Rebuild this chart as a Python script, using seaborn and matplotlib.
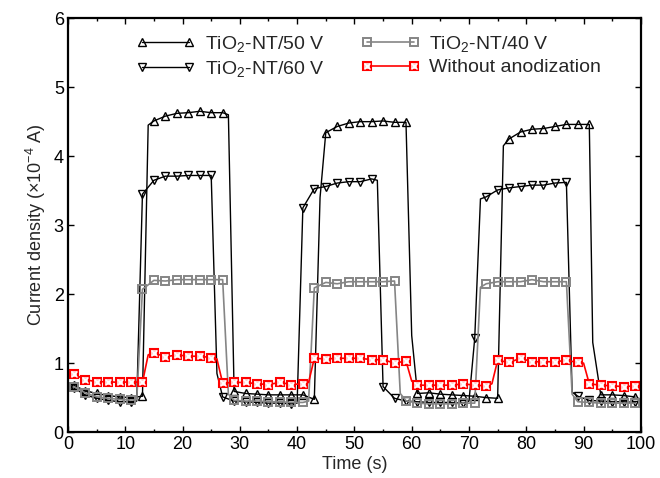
import numpy as np
import pandas as pd
import matplotlib
matplotlib.use("Agg")
import matplotlib.pyplot as plt
from matplotlib.ticker import MultipleLocator
from matplotlib.legend_handler import HandlerTuple
import seaborn as sns

# Sampling times of the marked readings (s)
t_marks = list(range(1, 100, 2))

# Photocurrent readings at the marked times (x1e-4 A)
y_50v = [0.68, 0.60, 0.56, 0.53, 0.51, 0.50, 0.52, 4.51, 4.58, 4.62,
         4.63, 4.65, 4.63, 4.63, 0.59, 0.56, 0.55, 0.54, 0.54, 0.54,
         0.54, 0.475, 4.34, 4.43, 4.48, 4.50, 4.50, 4.51, 4.49, 4.49,
         0.56, 0.57, 0.55, 0.54, 0.53, 0.52, 0.50, 0.49, 4.25, 4.35,
         4.39, 4.40, 4.43, 4.46, 4.46, 4.46, 0.54, 0.54, 0.53, 0.51]
y_60v = [0.64, 0.54, 0.49, 0.46, 0.44, 0.44, 3.45, 3.65, 3.71, 3.71,
         3.72, 3.72, 3.72, 0.51, 0.45, 0.44, 0.43, 0.42, 0.42, 0.41,
         3.25, 3.53, 3.56, 3.61, 3.63, 3.63, 3.67, 0.66, 0.49, 0.45,
         0.44, 0.43, 0.43, 0.43, 0.42, 1.36, 3.41, 3.51, 3.54, 3.56,
         3.58, 3.58, 3.61, 3.62, 0.52, 0.46, 0.45, 0.44, 0.44, 0.43]
y_40v = [0.66, 0.57, 0.51, 0.49, 0.475, 0.465, 2.07, 2.20, 2.19, 2.21,
         2.21, 2.21, 2.21, 2.21, 0.46, 0.45, 0.45, 0.44, 0.44, 0.43,
         0.43, 2.09, 2.17, 2.15, 2.18, 2.18, 2.18, 2.18, 2.19, 0.455,
         0.42, 0.41, 0.41, 0.41, 0.42, 0.42, 2.15, 2.18, 2.18, 2.18,
         2.21, 2.18, 2.18, 2.18, 0.44, 0.43, 0.42, 0.42, 0.42, 0.42]
y_bare = [0.84, 0.76, 0.73, 0.73, 0.72, 0.73, 0.72, 1.15, 1.09, 1.12,
          1.10, 1.10, 1.08, 0.71, 0.72, 0.72, 0.70, 0.69, 0.72, 0.69,
          0.70, 1.07, 1.06, 1.07, 1.07, 1.07, 1.05, 1.05, 1.00, 1.03,
          0.68, 0.68, 0.68, 0.68, 0.70, 0.68, 0.67, 1.04, 1.01, 1.07,
          1.02, 1.02, 1.02, 1.04, 1.01, 0.70, 0.68, 0.67, 0.66, 0.67]

# Intermediate (unmarked) readings at the light on/off switching edges
edge_t_50v = [14, 28, 44, 60, 76, 91.6]
edge_y_50v = [4.45, 4.60, 3.40, 1.40, 4.15, 1.30]
edge_t_60v = [12, 26, 40, 54, 70, 72, 88]
edge_y_60v = [0.45, 0.85, 0.42, 3.65, 0.45, 3.38, 0.58]
edge_t_40v = [12, 28, 42, 58, 72, 88]
edge_y_40v = [0.47, 0.55, 0.45, 0.56, 2.10, 0.55]
edge_t_bare = [14, 26, 42, 60, 74, 90]
edge_y_bare = [1.12, 1.06, 0.72, 0.74, 0.70, 1.00]

labels = ["TiO$_2$-NT/50 V", "TiO$_2$-NT/60 V", "TiO$_2$-NT/40 V", "Without anodization"]


def series_frame(y, et, ey):
    df = pd.DataFrame({"t": list(t_marks) + list(et),
                       "j": list(y) + list(ey),
                       "marked": [True] * len(t_marks) + [False] * len(et)})
    return df.sort_values("t").reset_index(drop=True)


sns.set_style("ticks")
plt.rcParams["font.family"] = ["Liberation Sans", "DejaVu Sans"]
plt.rcParams["mathtext.fontset"] = "custom"
plt.rcParams["mathtext.rm"] = "Liberation Sans"
plt.rcParams["mathtext.it"] = "Liberation Sans:italic"
plt.rcParams["mathtext.sf"] = "Liberation Sans"

fig = plt.figure(figsize=(6.6, 4.78), dpi=100)
ax = fig.add_axes([0.103, 0.096, 0.868, 0.866])

styles = [
    dict(color="black", marker="^", lw=1.0, ms=6, mew=1.0, mfc="none", mec="black"),
    dict(color="black", marker="v", lw=1.0, ms=6, mew=1.0, mfc="none", mec="black"),
    dict(color="#858585", marker="s", lw=1.2, ms=5.5, mew=1.4, mfc="none", mec="#858585"),
    dict(color="#ff0000", marker="s", lw=1.2, ms=6, mew=1.5, mfc="#ffd0d0", mec="#ff0000"),
]
data = [(y_50v, edge_t_50v, edge_y_50v), (y_60v, edge_t_60v, edge_y_60v),
        (y_40v, edge_t_40v, edge_y_40v), (y_bare, edge_t_bare, edge_y_bare)]

handles = []
for (y, et, ey), st, lab in zip(data, styles, labels):
    df = series_frame(y, et, ey)
    idx = list(np.flatnonzero(df["marked"].values))
    n_before = len(ax.lines)
    sns.lineplot(data=df, x="t", y="j", ax=ax, estimator=None, sort=False,
                 color=st["color"], linewidth=st["lw"], marker=st["marker"],
                 markersize=st["ms"], markeredgewidth=st["mew"],
                 markerfacecolor=st["mfc"], markeredgecolor=st["mec"],
                 markevery=idx, legend=False)
    handles.append(ax.lines[n_before])

# Cross inside each square of the bare-substrate series
bare = series_frame(y_bare, edge_t_bare, edge_y_bare)
bare_m = bare[bare["marked"]]
n_before = len(ax.lines)
sns.lineplot(data=bare_m, x="t", y="j", ax=ax, estimator=None, sort=False,
             linestyle="none", marker="x", markersize=4, markeredgewidth=1.0,
             color="#ff0000", legend=False)
handles[3] = (handles[3], ax.lines[n_before])

ax.set_xlim(0, 100)
ax.set_ylim(0, 6)
ax.xaxis.set_major_locator(MultipleLocator(10))
ax.xaxis.set_minor_locator(MultipleLocator(5))
ax.yaxis.set_major_locator(MultipleLocator(1))
ax.tick_params(which="both", direction="in", top=True, right=True,
               labelsize=13, width=1.0, colors="black", pad=3)
ax.tick_params(which="major", length=4)
ax.tick_params(which="minor", length=2.5)
for s in ax.spines.values():
    s.set_linewidth(1.6)
    s.set_color("black")

ax.set_xlabel("Time (s)", fontsize=13, labelpad=2)
ax.set_ylabel(r"Current density (×10$^{-4}$ A)", fontsize=13, labelpad=4)

leg = ax.legend([handles[0], handles[1], handles[2], handles[3]], labels,
                ncol=2, loc="upper center", bbox_to_anchor=(0.525, 0.995),
                frameon=False, fontsize=14, handlelength=3.0,
                numpoints=2, columnspacing=1.9, labelspacing=0.25,
                handletextpad=0.5, borderaxespad=0.3,
                handler_map={tuple: HandlerTuple(ndivide=1)})

fig.savefig("out.png", dpi=100)
